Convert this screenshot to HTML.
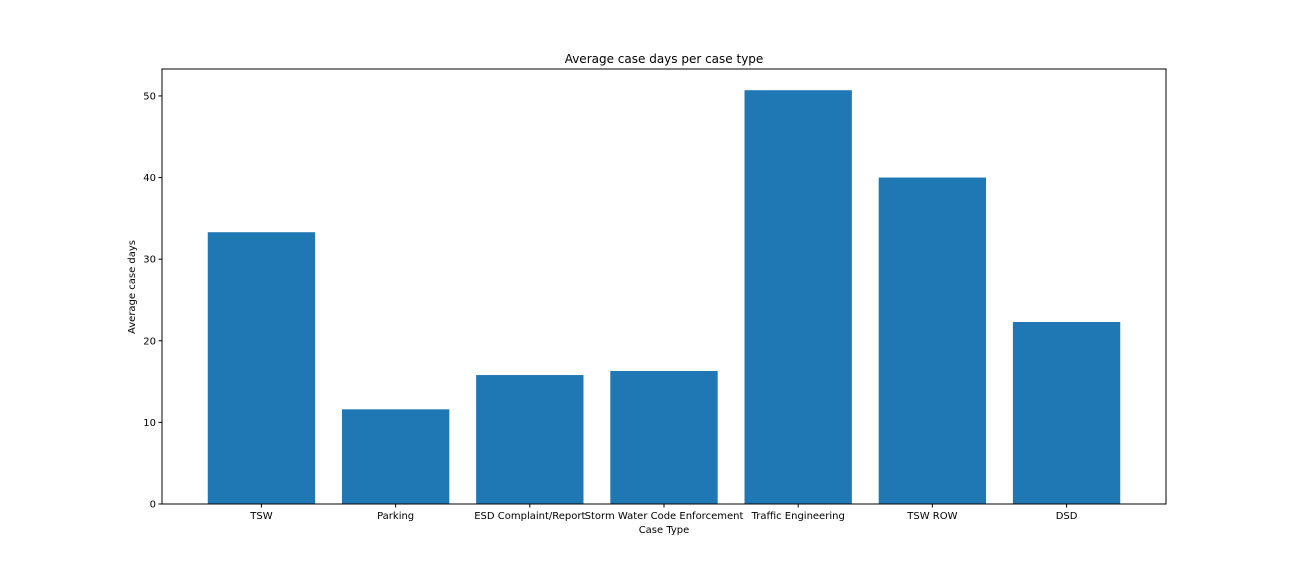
<!DOCTYPE html>
<html><head><meta charset="utf-8"><style>
body{margin:0;background:#fff;}
svg{display:block;font-family:"DejaVu Sans","Liberation Sans",sans-serif;}
</style></head><body>
<svg id="chart" width="1296" height="576">
<rect width="1296" height="576" fill="#fff"/>
<text x="664" y="63" font-size="12" text-anchor="middle">Average case days per case type</text>
<g id="bars"></g>
<g id="yticks"></g>
<g id="xticks"></g>
<rect x="162" y="69" width="1004" height="435" fill="none" stroke="#000" stroke-width="1"/>
<text x="664" y="533" font-size="10" text-anchor="middle">Case Type</text>
<text transform="translate(135,287) rotate(-90)" font-size="10" text-anchor="middle">Average case days</text>
</svg>
<script>
const categories=["TSW","Parking","ESD Complaint/Report","Storm Water Code Enforcement","Traffic Engineering","TSW ROW","DSD"];
const values=[33.3,11.6,15.8,16.3,50.7,40.0,22.3];
const yTicks=[0,10,20,30,40,50];
const ns="http://www.w3.org/2000/svg";
const L=162,R=1166,T=69,B=504;
const xmin=-0.741,xmax=categories.length-1+0.741;
const ymin=0,ymax=53.3;
const xs=v=>L+(v-xmin)/(xmax-xmin)*(R-L);
const ys=v=>B-(v-ymin)/(ymax-ymin)*(B-T);
const bars=document.getElementById('bars'),yt=document.getElementById('yticks'),xt=document.getElementById('xticks');
function mk(t,a){const e=document.createElementNS(ns,t);for(const k in a)e.setAttribute(k,a[k]);return e;}
values.forEach((v,i)=>{
 const x0=xs(i-0.4),x1=xs(i+0.4);
 const r=mk('rect',{x:x0,y:ys(v),width:x1-x0,height:ys(0)-ys(v),fill:'#1f77b4'});
 
 
 bars.appendChild(r);
 const tk=mk('line',{x1:xs(i),x2:xs(i),y1:B,y2:B+3.5,stroke:'#000'});
 
 
 xt.appendChild(tk);
 const tx=mk('text',{x:xs(i),y:B+15,'font-size':10,'text-anchor':'middle'});
 tx.textContent=categories[i];
 
 
 xt.appendChild(tx);
});
yTicks.forEach(v=>{
 const tk=mk('line',{x1:L-3.5,x2:L,y1:ys(v),y2:ys(v),stroke:'#000'});
 
 
 yt.appendChild(tk);
 const tx=mk('text',{x:L-6,y:ys(v)+3.5,'font-size':10,'text-anchor':'end'});
 tx.textContent=v;
 
 
 yt.appendChild(tx);
});
</script>
</body></html>
